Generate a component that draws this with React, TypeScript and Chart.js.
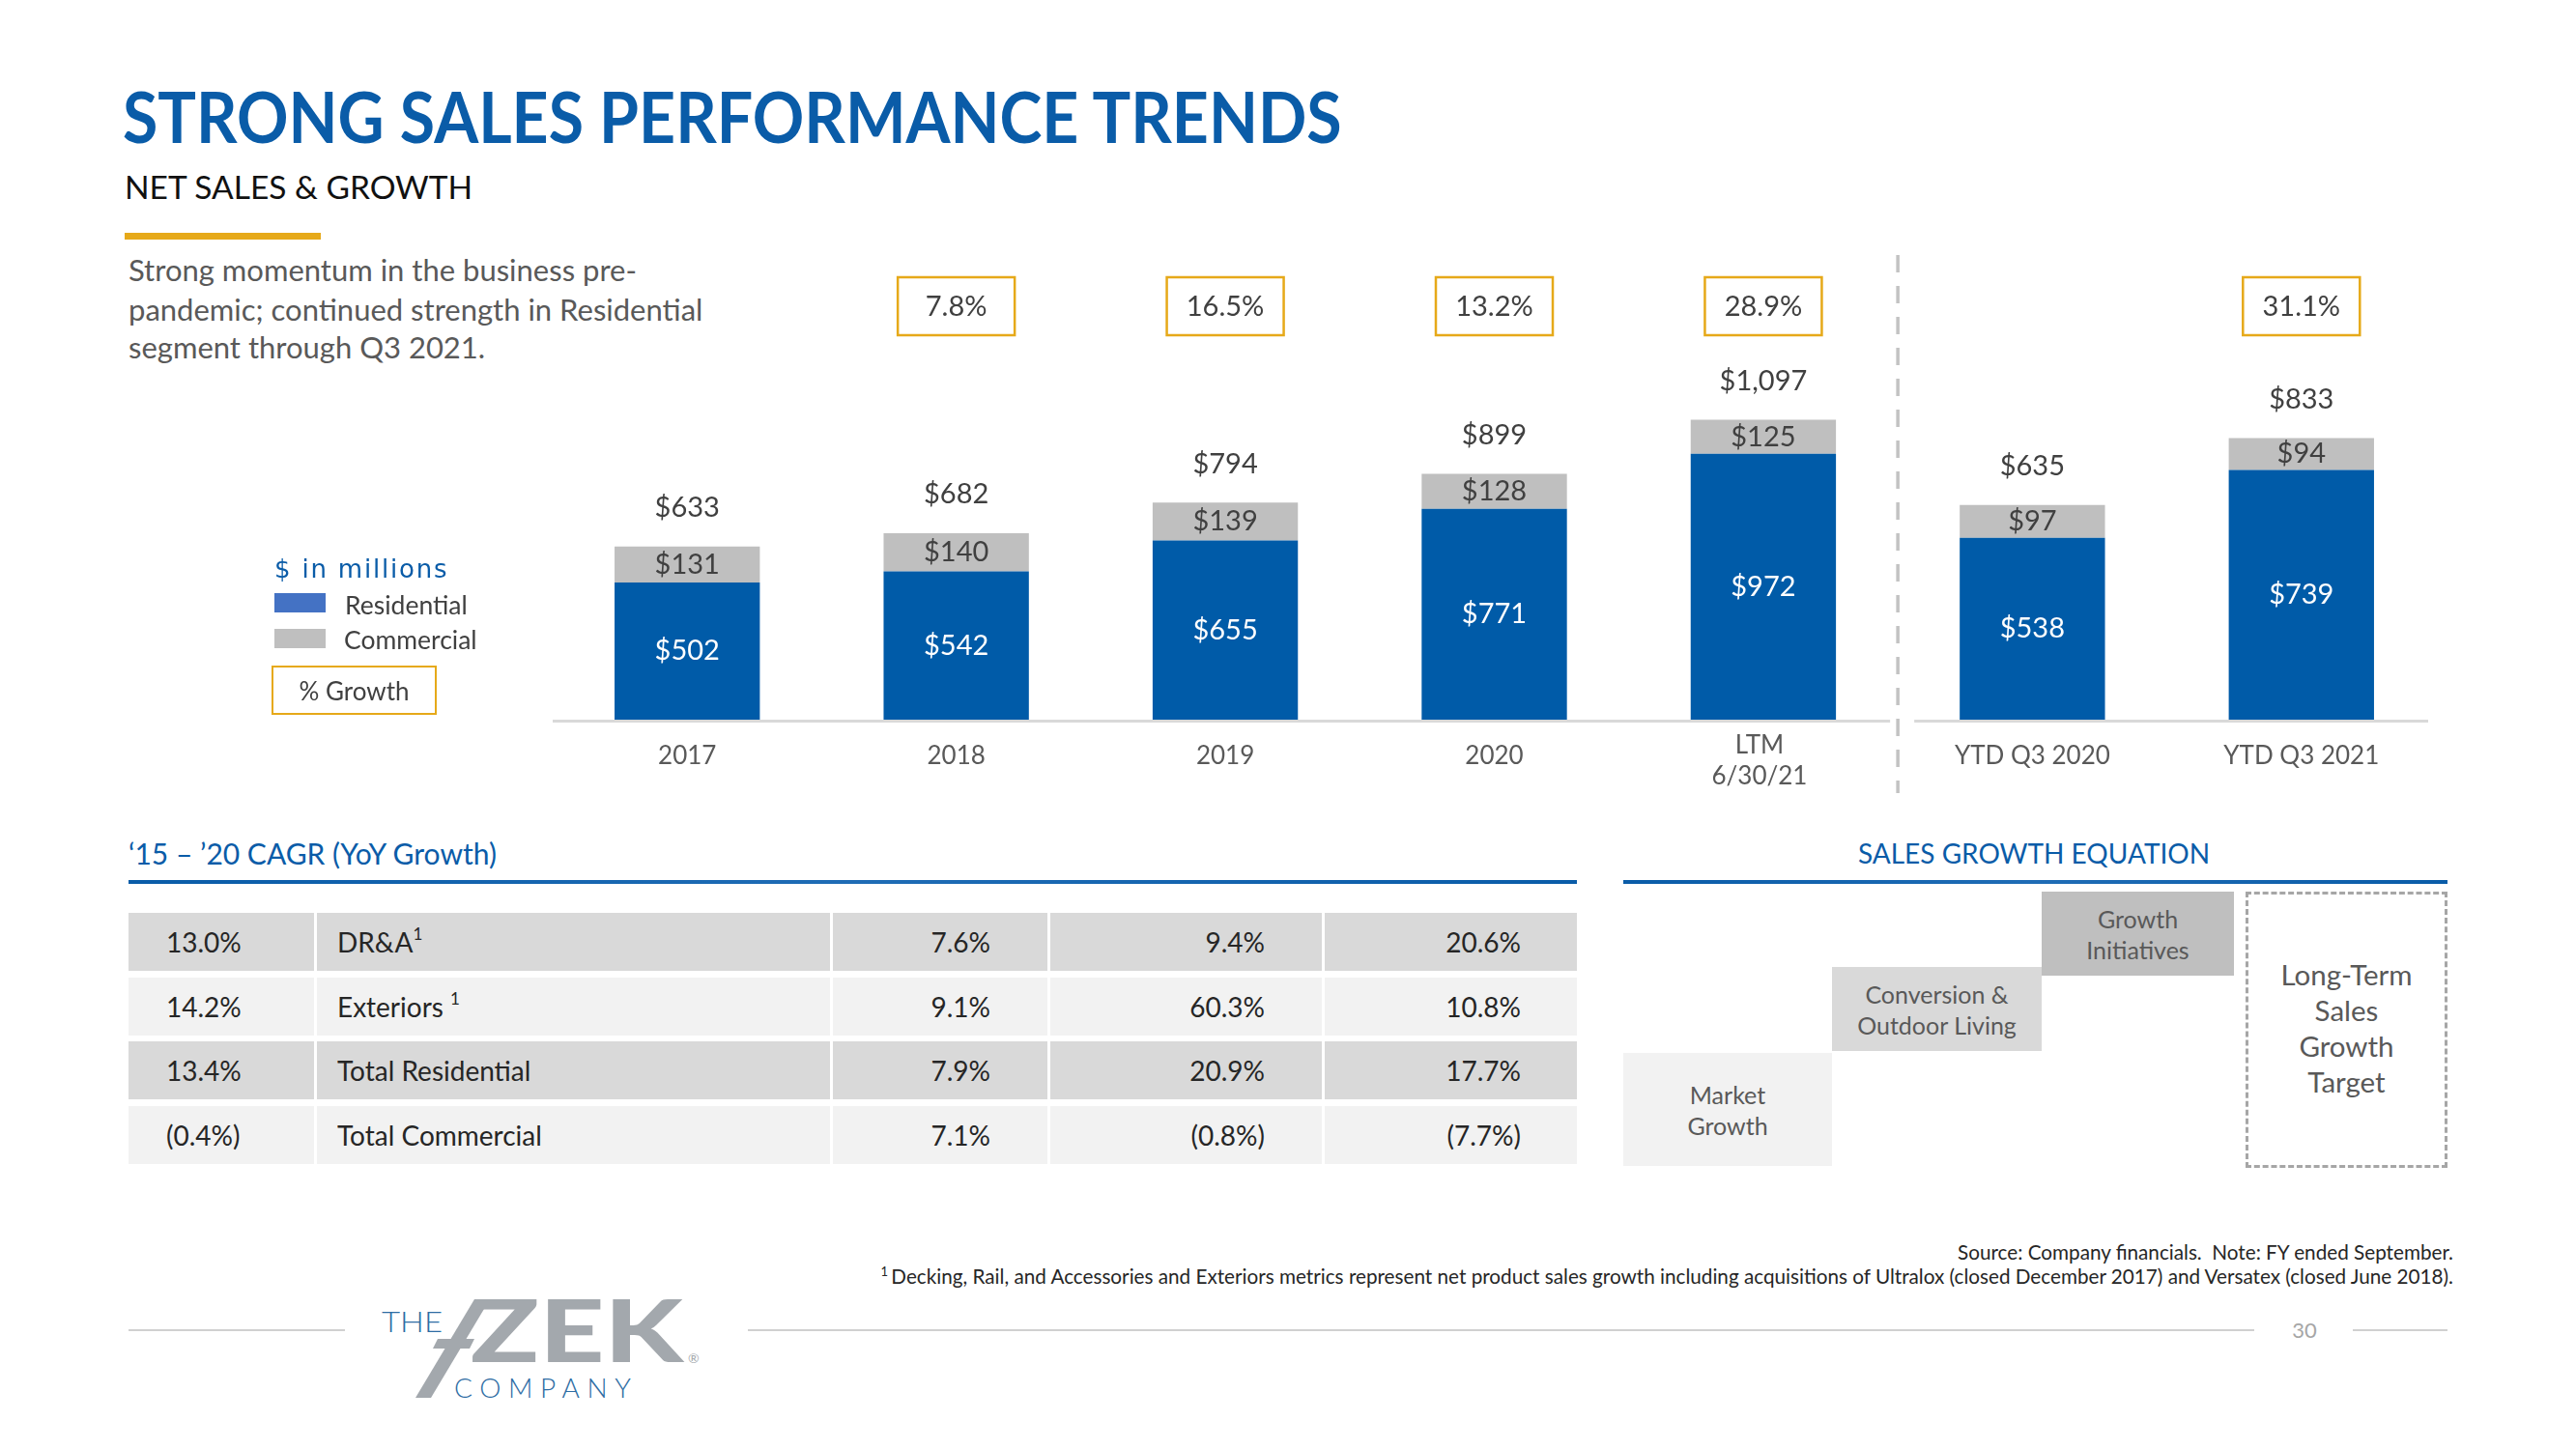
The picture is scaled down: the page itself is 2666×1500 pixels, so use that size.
import React, { useEffect, useRef } from "react";
import { Chart, registerables } from "chart.js";

Chart.register(...registerables);

// ---------- DATA ----------
const categories: (string | string[])[] = ["2017", "2018", "2019", "2020", ["LTM", "6/30/21"], "YTD Q3 2020", "YTD Q3 2021"];
const residential = [502, 542, 655, 771, 972, 538, 739];
const commercial = [131, 140, 139, 128, 125, 97, 94];
const growth: (string | null)[] = [null, "7.8%", "16.5%", "13.2%", "28.9%", null, "31.1%"];
const YTD_START = 5;

const tableCagr = ["13.0%", "14.2%", "13.4%", "(0.4%)"];
const tableSegment = ["DR&A", "Exteriors ", "Total Residential", "Total Commercial"];
const tableFootnote = ["1", "1", "", ""];
const table2018 = ["7.6%", "9.1%", "7.9%", "7.1%"];
const table2019 = ["9.4%", "60.3%", "20.9%", "(0.8%)"];
const table2020 = ["20.6%", "10.8%", "17.7%", "(7.7%)"];

// ---------- STYLE ----------
const W = 2666;
const FONT = "Lato, 'Open Sans', Arial, sans-serif";
const BLUE = "#005BA8";
const GRAY = "#BFBFBF";
const GOLD = "#E6A919";
const TXT = "#404040";
const LOGO_GRAY = "#A3A8AD";
const LOGO_BLUE = "#2E6DA4";

const money = (v: number) => "$" + v.toLocaleString("en-US");

const slidePlugin = {
  id: "slide",
  beforeDatasetsDraw(chart: any) {
    const { ctx, chartArea: a, scales } = chart;
    const x = scales.x;
    const sep = (x.getPixelForValue(YTD_START - 1) + x.getPixelForValue(YTD_START)) / 2;
    ctx.save();
    ctx.strokeStyle = "#D9D9D9";
    ctx.lineWidth = 3;
    ctx.beginPath();
    ctx.moveTo(a.left, a.bottom + 1.5);
    ctx.lineTo(sep - 8, a.bottom + 1.5);
    ctx.moveTo(sep + 17, a.bottom + 1.5);
    ctx.lineTo(a.right - 8, a.bottom + 1.5);
    ctx.stroke();
    ctx.setLineDash([18, 14]);
    ctx.strokeStyle = "#C3C3C3";
    ctx.lineWidth = 3.5;
    ctx.beginPath();
    ctx.moveTo(sep, 24);
    ctx.lineTo(sep, 581);
    ctx.stroke();
    ctx.restore();
  },
  afterDatasetsDraw(chart: any) {
    const { ctx, chartArea: a } = chart;
    ctx.save();
    ctx.textAlign = "center";
    ctx.textBaseline = "middle";
    categories.forEach((cat, i) => {
      const isYtd = i >= YTD_START;
      const resEl = chart.getDatasetMeta(isYtd ? 2 : 0).data[i];
      const comEl = chart.getDatasetMeta(isYtd ? 3 : 1).data[i];
      ctx.font = `29px ${FONT}`;
      ctx.fillStyle = "#FFFFFF";
      ctx.fillText(money(residential[i]), resEl.x, (resEl.y + resEl.base) / 2);
      ctx.fillStyle = TXT;
      ctx.fillText(money(commercial[i]), comEl.x, (comEl.y + comEl.base) / 2);
      ctx.fillText(money(residential[i] + commercial[i]), comEl.x, comEl.y - 40);
      const g = growth[i];
      if (g) {
        const bw = 121, bh = 60, by = 47;
        ctx.strokeStyle = GOLD;
        ctx.lineWidth = 2.5;
        ctx.strokeRect(resEl.x - bw / 2, by, bw, bh);
        ctx.fillStyle = TXT;
        ctx.fillText(g, resEl.x, by + bh / 2 + 1);
      }
      ctx.font = `26px ${FONT}`;
      ctx.fillStyle = "#595959";
      const lines = Array.isArray(cat) ? cat : [cat];
      if (lines.length === 1) {
        ctx.fillText(lines[0], resEl.x, a.bottom + 38);
      } else {
        lines.forEach((l, k) => ctx.fillText(l, resEl.x - 4, a.bottom + 27 + k * 32));
      }
    });
    ctx.restore();
  },
};

function T(props: any) {
  const { x, y, size, color = TXT, weight = 400, align = "left", children, family = FONT, ls = 0, italic = false, sx = 1 } = props;
  const style: any = {
    position: "absolute",
    top: y,
    fontSize: size,
    color,
    fontWeight: weight,
    fontFamily: family,
    lineHeight: 1,
    whiteSpace: "nowrap",
    letterSpacing: ls,
    fontStyle: italic ? "italic" : "normal",
  };
  const s = sx !== 1 ? ` scaleX(${sx})` : "";
  if (align === "left") {
    style.left = x;
    style.transform = "translateY(-50%)" + s;
    style.transformOrigin = "left center";
  } else if (align === "right") {
    style.right = W - x;
    style.transform = "translateY(-50%)" + s;
    style.transformOrigin = "right center";
  } else {
    style.left = x;
    style.transform = "translate(-50%,-50%)" + s;
  }
  return <div style={style}>{children}</div>;
}

function Box(props: any) {
  const { left, top, width, height, bg, children, style = {} } = props;
  return (
    <div
      style={{
        position: "absolute",
        left,
        top,
        width,
        height,
        background: bg,
        display: "flex",
        alignItems: "center",
        justifyContent: "center",
        textAlign: "center",
        fontFamily: FONT,
        boxSizing: "border-box",
        ...style,
      }}
    >
      {children}
    </div>
  );
}

export default function App() {
  const ref = useRef<HTMLCanvasElement>(null);
  useEffect(() => {
    const fy = (arr: number[]) => arr.map((v, i) => (i < YTD_START ? v : null));
    const ytd = (arr: number[]) => arr.map((v, i) => (i >= YTD_START ? v : null));
    const chart = new Chart(ref.current as HTMLCanvasElement, {
      type: "bar",
      data: {
        labels: categories as any,
        datasets: [
          { label: "Residential", data: fy(residential), backgroundColor: BLUE, yAxisID: "y", stack: "s" },
          { label: "Commercial", data: fy(commercial), backgroundColor: GRAY, yAxisID: "y", stack: "s" },
          { label: "Residential YTD", data: ytd(residential), backgroundColor: BLUE, yAxisID: "y2", stack: "s" },
          { label: "Commercial YTD", data: ytd(commercial), backgroundColor: GRAY, yAxisID: "y2", stack: "s" },
        ] as any,
      },
      options: {
        responsive: false,
        animation: false,
        devicePixelRatio: 1,
        events: [],
        layout: { padding: { left: 572, right: 145, top: 137, bottom: 115 } },
        datasets: { bar: { categoryPercentage: 1, barPercentage: 0.54, skipNull: true, borderWidth: 0 } as any },
        plugins: { legend: { display: false }, tooltip: { enabled: false } },
        scales: {
          x: { display: false, stacked: true },
          y: { display: false, stacked: true, min: 0, max: 1300 },
          y2: { display: false, stacked: true, min: 0, max: 1052, position: "right" },
        } as any,
      },
      plugins: [slidePlugin],
    });
    return () => chart.destroy();
  }, []);

  const colX = [133, 326, 860, 1085, 1369, 1632];
  const rowTop = (r: number) => 945 + r * 66.5;
  const eqText = { fontSize: 25, color: "#595959", lineHeight: "32px" };

  return (
    <div style={{ position: "absolute", left: 0, top: 0, width: W, height: 1500, background: "#fff", overflow: "hidden", fontFamily: FONT }}>
      {/* Title */}
      <T x={127} y={120} size={72} weight={700} color="#0A5CA8" sx={0.92}>STRONG SALES PERFORMANCE TRENDS</T>
      <T x={129} y={194} size={33.5} color="#111">NET SALES &amp; GROWTH</T>
      <div style={{ position: "absolute", left: 129, top: 241, width: 203, height: 7, background: GOLD }} />
      <T x={133} y={279} size={31} color="#595959">Strong momentum in the business pre-</T>
      <T x={133} y={320} size={31} color="#595959">pandemic; continued strength in Residential</T>
      <T x={133} y={359} size={31} color="#595959">segment through Q3 2021.</T>

      {/* Chart */}
      <canvas ref={ref} width={2666} height={620} style={{ position: "absolute", left: 0, top: 240, display: "block" }} />

      {/* Legend */}
      <T x={284} y={589} size={26} color="#0A5CA8" family="'DejaVu Sans', Verdana, sans-serif" ls={1.8}>$ in millions</T>
      <div style={{ position: "absolute", left: 284, top: 614, width: 53, height: 20, background: "#4472C4" }} />
      <T x={357} y={626} size={26.5}>Residential</T>
      <div style={{ position: "absolute", left: 284, top: 651, width: 53, height: 20, background: GRAY }} />
      <T x={356} y={662} size={26.5}>Commercial</T>
      <Box left={281} top={689} width={171} height={51} style={{ border: `2.5px solid ${GOLD}`, fontSize: 26, color: TXT }}>% Growth</Box>

      {/* Table section */}
      <T x={133} y={883} size={30} color="#0A5CA8">‘15 – ’20 CAGR (YoY Growth)</T>
      <div style={{ position: "absolute", left: 133, top: 911, width: 1499, height: 4, background: "linear-gradient(90deg,#0A5CA8,#1F6CB5 50%,#0A5CA8)" }} />
      {tableCagr.map((c, r) => {
        const bg = r % 2 === 0 ? "#D9D9D9" : "#F2F2F2";
        const top = rowTop(r);
        const h = 60;
        const cy = top + h / 2;
        return (
          <React.Fragment key={r}>
            {colX.slice(0, 5).map((cx, k) => (
              <div key={k} style={{ position: "absolute", left: cx + (k > 0 ? 2 : 0), top, width: colX[k + 1] - cx - (k > 0 ? 2 : 0) - (k < 4 ? 1 : 0), height: h, background: bg }} />
            ))}
            <T x={172} y={cy} size={28} color="#262626">{c}</T>
            <T x={349} y={cy} size={28} color="#262626">
              {tableSegment[r]}
              {tableFootnote[r] ? <sup style={{ fontSize: 17, verticalAlign: "top", position: "relative", top: -3 }}>{tableFootnote[r]}</sup> : null}
            </T>
            <T x={1025} y={cy} size={28} color="#262626" align="right">{table2018[r]}</T>
            <T x={1309} y={cy} size={28} color="#262626" align="right">{table2019[r]}</T>
            <T x={1574} y={cy} size={28} color="#262626" align="right">{table2020[r]}</T>
          </React.Fragment>
        );
      })}

      {/* Sales growth equation */}
      <T x={2105} y={883} size={28} color="#0A5CA8" align="center">SALES GROWTH EQUATION</T>
      <div style={{ position: "absolute", left: 1680, top: 911, width: 853, height: 4, background: "linear-gradient(90deg,#0A5CA8,#1F6CB5 50%,#0A5CA8)" }} />
      <Box left={1680} top={1090} width={216} height={117} bg="#F2F2F2" style={eqText}>Market<br />Growth</Box>
      <Box left={1896} top={1001} width={217} height={87} bg="#D9D9D9" style={eqText}>Conversion &amp;<br />Outdoor Living</Box>
      <Box left={2113} top={923} width={199} height={87} bg="#BFBFBF" style={eqText}>Growth<br />Initiatives</Box>
      <Box left={2324} top={923} width={209} height={286} style={{ border: "3px dashed #A6A6A6", fontSize: 29.5, color: "#595959", lineHeight: "37px", paddingBottom: 4 }}>Long-Term<br />Sales<br />Growth<br />Target</Box>

      {/* Footnotes */}
      <T x={2539} y={1296} size={20.7} color="#262626" align="right">Source: Company financials.&nbsp; Note: FY ended September.</T>
      <T x={2539} y={1321} size={20.7} color="#262626" align="right">
        <sup style={{ fontSize: 13 }}>1 </sup>Decking, Rail, and Accessories and Exteriors metrics represent net product sales growth including acquisitions of Ultralox (closed December 2017) and Versatex (closed June 2018).
      </T>

      {/* Footer */}
      <div style={{ position: "absolute", left: 133, top: 1376, width: 224, height: 2, background: "#D0D0D0" }} />
      <div style={{ position: "absolute", left: 774, top: 1376, width: 1559, height: 2, background: "#D0D0D0" }} />
      <div style={{ position: "absolute", left: 2435, top: 1376, width: 98, height: 2, background: "#D0D0D0" }} />
      <T x={2385} y={1377} size={22} color="#A6A6A6" align="center">30</T>

      {/* Logo */}
      <svg width={400} height={150} viewBox="0 0 400 150" style={{ position: "absolute", left: 370, top: 1320 }}>
        <text x={25} y={59} fontFamily={FONT} fontWeight={300} fontSize={29} fill={LOGO_BLUE} textLength={63} lengthAdjust="spacingAndGlyphs">THE</text>
        <polygon points="60,127 76,127 137,25 121,25" fill={LOGO_GRAY} />
        <polygon points="83,66 121,66 116,76 78,76" fill={LOGO_GRAY} />
        <text x={117} y={90} fontFamily={FONT} fontWeight={900} fontSize={90} fill={LOGO_GRAY} textLength={220} lengthAdjust="spacingAndGlyphs">ZEK</text>
        <text x={342} y={91} fontFamily={FONT} fontSize={14} fill={LOGO_GRAY}>®</text>
        <text x={100} y={127} fontFamily={FONT} fontWeight={300} fontSize={28} fill={LOGO_BLUE} textLength={183} lengthAdjust="spacing">COMPANY</text>
      </svg>
    </div>
  );
}
